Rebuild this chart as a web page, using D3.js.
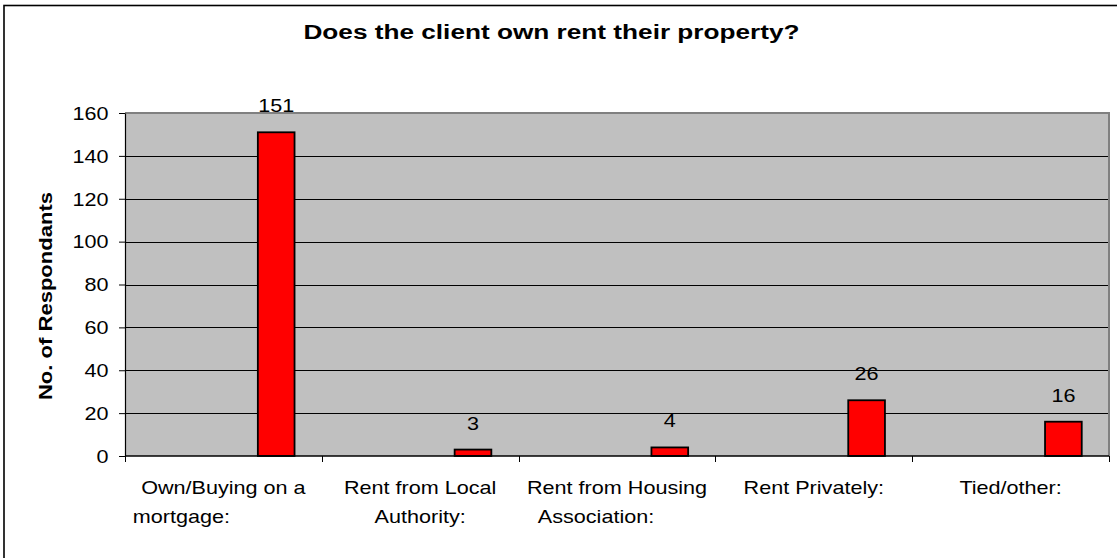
<!DOCTYPE html>
<html>
<head>
<meta charset="utf-8">
<script src="https://cdn.jsdelivr.net/npm/d3@7"></script>
<style>
  html, body { margin: 0; padding: 0; background: #fff; }
  svg { display: block; font-family: "Liberation Sans", Arial, sans-serif; }
  text { white-space: pre; }
</style>
</head>
<body>
<svg id="chart" width="1117" height="558"></svg>
<script>
// Survey answers: one entry per tenure type, each split into its wrapped label lines
const categories = [
  ["Own/Buying on a", "mortgage:              "],
  ["Rent from Local", "Authority:"],
  ["Rent from Housing", "Association:       "],
  ["Rent Privately:"],
  ["Tied/other:"]
];
const respondents = [151, 3, 4, 26, 16];
const yTicks = [0, 20, 40, 60, 80, 100, 120, 140, 160];

const chartTitle = "Does the client own rent their property?";
const yTitle = "No. of Respondants";

const svg = d3.select("#chart");
const W = 1117, H = 558;
const plot = { left: 125, right: 1109, top: 113, bottom: 456 };
const stretch = 1.2;       // glyphs in this chart render a little wider than Arial
const fontSize = 18;

// Outer chart frame
svg.append("rect")
  .attr("x", 4).attr("y", 5.5)
  .attr("width", W + 20).attr("height", H + 20)
  .attr("fill", "#fff").attr("stroke", "#000").attr("stroke-width", 1.6);

const x = d3.scaleBand()
  .domain(d3.range(categories.length))
  .range([plot.left, plot.right])
  .padding(0);

const y = d3.scaleLinear()
  .domain([0, 160])
  .range([plot.bottom, plot.top]);

// Plot area
svg.append("rect")
  .attr("x", plot.left).attr("y", plot.top)
  .attr("width", plot.right - plot.left).attr("height", plot.bottom - plot.top)
  .attr("fill", "#c0c0c0");

// Horizontal gridlines
svg.append("g")
  .selectAll("line")
  .data(yTicks.filter(t => t > 0 && t < 160))
  .join("line")
  .attr("x1", plot.left).attr("x2", plot.right)
  .attr("y1", d => Math.round(y(d)) + 0.5).attr("y2", d => Math.round(y(d)) + 0.5)
  .attr("stroke", "#000").attr("stroke-width", 1);

// Plot area border (top / right)
svg.append("path")
  .attr("d", `M${plot.left},${plot.top} H${plot.right} V${plot.bottom}`)
  .attr("fill", "none").attr("stroke", "#808080").attr("stroke-width", 2);

// Bars: each sits in the right part of its category slot
const barOffset = 0.675, barWidth = 0.1865;
svg.append("g")
  .selectAll("rect")
  .data(respondents)
  .join("rect")
  .attr("x", (d, i) => x(i) + x.bandwidth() * barOffset)
  .attr("width", x.bandwidth() * barWidth)
  .attr("y", d => y(d))
  .attr("height", d => y(0) - y(d))
  .attr("fill", "#ff0000")
  .attr("stroke", "#000").attr("stroke-width", 1.8);

// Value labels above bars
svg.append("g")
  .selectAll("text")
  .data(respondents)
  .join("text")
  .attr("transform", (d, i) =>
    `translate(${x(i) + x.bandwidth() * (barOffset + barWidth / 2)},${y(d) - 20}) scale(${stretch},1)`)
  .attr("text-anchor", "middle")
  .attr("font-size", fontSize)
  .attr("fill", "#000")
  .text(d => d);

// Y axis
const yAxis = svg.append("g")
  .attr("transform", `translate(${plot.left},0)`)
  .call(d3.axisLeft(y).tickValues(yTicks).tickSize(6).tickSizeOuter(0));
yAxis.select(".domain").attr("stroke", "#000").attr("stroke-width", 1.2);
yAxis.selectAll(".tick line").attr("stroke", "#000").attr("stroke-width", 1);
yAxis.selectAll(".tick text")
  .attr("x", 0).attr("dy", null).attr("y", 6.3)
  .attr("transform", `translate(-16.5,0) scale(${stretch},1)`)
  .attr("font-size", fontSize)
  .attr("font-family", "Liberation Sans, Arial, sans-serif")
  .attr("fill", "#000");

// X axis line and boundary ticks
svg.append("line")
  .attr("x1", plot.left).attr("x2", plot.right)
  .attr("y1", plot.bottom).attr("y2", plot.bottom)
  .attr("stroke", "#000").attr("stroke-width", 1.5);
const edges = d3.range(categories.length + 1).map(i =>
  i < categories.length ? x(i) : x(i - 1) + x.bandwidth());
svg.append("g")
  .selectAll("line")
  .data(edges)
  .join("line")
  .attr("x1", d => Math.round(d) + 0.5).attr("x2", d => Math.round(d) + 0.5)
  .attr("y1", plot.bottom).attr("y2", plot.bottom + 6)
  .attr("stroke", "#000").attr("stroke-width", 1);

// Category labels
const catG = svg.append("g");
categories.forEach((lines, i) => {
  lines.forEach((line, j) => {
    catG.append("text")
      .attr("xml:space", "preserve")
      .attr("transform", `translate(${x(i) + x.bandwidth() / 2},${493.5 + j * 29}) scale(${stretch},1)`)
      .attr("text-anchor", "middle")
      .attr("font-size", fontSize)
      .attr("fill", "#000")
      .text(line);
  });
});

// Chart title
svg.append("text")
  .attr("transform", `translate(551.5,38.5) scale(1.31,1)`)
  .attr("text-anchor", "middle")
  .attr("font-size", 20)
  .attr("font-weight", "bold")
  .attr("fill", "#000")
  .text(chartTitle);

// Y axis title
svg.append("text")
  .attr("transform", `translate(52,296) rotate(-90) scale(1.26,1)`)
  .attr("text-anchor", "middle")
  .attr("font-size", 17.5)
  .attr("font-weight", "bold")
  .attr("fill", "#000")
  .text(yTitle);
</script>
</body>
</html>
